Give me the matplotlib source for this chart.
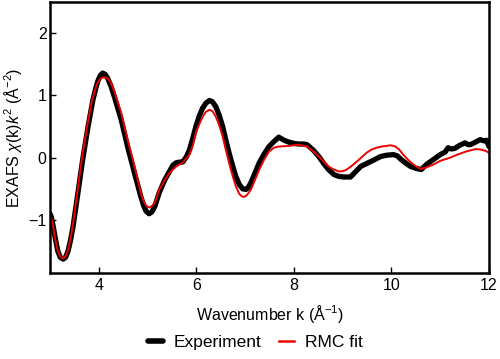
import numpy as np
import matplotlib.pyplot as plt

plt.rcParams['font.family'] = ['Liberation Sans', 'DejaVu Sans']
plt.rcParams['mathtext.fontset'] = 'custom'
plt.rcParams['mathtext.rm'] = 'Liberation Sans'
plt.rcParams['mathtext.it'] = 'Liberation Sans:italic'

# 实验数据 (k, chi*k^2)
k_exp = [3.0, 3.03, 3.07, 3.10, 3.16, 3.21, 3.27, 3.32, 3.37, 3.42, 3.47, 3.57, 3.67, 3.78,
         3.88, 3.94, 3.98, 4.03, 4.08, 4.13, 4.18, 4.25, 4.32, 4.46, 4.59, 4.73, 4.86, 4.92,
         4.97, 5.03, 5.09, 5.15, 5.24, 5.35, 5.45, 5.52, 5.59, 5.66, 5.72, 5.80, 5.86, 5.93,
         5.99, 6.06, 6.13, 6.20, 6.27, 6.33, 6.40, 6.47, 6.54, 6.60, 6.67, 6.74, 6.81, 6.88,
         6.95, 7.02, 7.07, 7.12, 7.20, 7.29, 7.39, 7.49, 7.59, 7.69, 7.80, 7.90, 8.00, 8.10,
         8.20, 8.27, 8.40, 8.51, 8.61, 8.71, 8.82, 8.92, 9.02, 9.16, 9.27, 9.37, 9.50, 9.63,
         9.78, 9.90, 10.04, 10.12, 10.20, 10.30, 10.39, 10.50, 10.61, 10.73, 10.86, 11.00,
         11.10, 11.16, 11.23, 11.30, 11.40, 11.51, 11.57, 11.62, 11.72, 11.82, 11.90, 11.95,
         12.0]
chi_exp = [-0.90, -0.96, -1.12, -1.26, -1.50, -1.60, -1.63, -1.60, -1.50, -1.33, -1.12, -0.58,
           -0.03, 0.50, 0.93, 1.12, 1.23, 1.32, 1.36, 1.34, 1.28, 1.15, 0.98, 0.61, 0.18, -0.24,
           -0.62, -0.77, -0.86, -0.90, -0.87, -0.78, -0.56, -0.36, -0.22, -0.12, -0.08, -0.07,
           -0.07, 0.02, 0.13, 0.32, 0.50, 0.67, 0.80, 0.88, 0.92, 0.90, 0.82, 0.68, 0.50, 0.30,
           0.08, -0.12, -0.30, -0.43, -0.50, -0.51, -0.47, -0.40, -0.25, -0.08, 0.06, 0.18,
           0.26, 0.33, 0.28, 0.25, 0.23, 0.22, 0.22, 0.21, 0.12, 0.02, -0.09, -0.19, -0.27,
           -0.30, -0.31, -0.31, -0.22, -0.14, -0.09, -0.04, 0.02, 0.04, 0.05, 0.03, -0.03,
           -0.09, -0.14, -0.17, -0.19, -0.10, -0.03, 0.05, 0.09, 0.16, 0.14, 0.15, 0.20, 0.24,
           0.21, 0.21, 0.25, 0.29, 0.27, 0.28, 0.18]

# RMC 拟合
k_fit = [3.0, 3.03, 3.07, 3.10, 3.16, 3.21, 3.27, 3.32, 3.37, 3.42, 3.47, 3.56, 3.65, 3.76,
         3.86, 3.96, 4.02, 4.08, 4.15, 4.20, 4.25, 4.32, 4.46, 4.59, 4.73, 4.86, 4.92, 4.98,
         5.04, 5.10, 5.16, 5.24, 5.35, 5.45, 5.59, 5.72, 5.86, 5.93, 5.99, 6.06, 6.13, 6.20,
         6.27, 6.33, 6.40, 6.47, 6.54, 6.60, 6.67, 6.74, 6.81, 6.88, 6.93, 6.98, 7.04, 7.12,
         7.20, 7.29, 7.39, 7.49, 7.59, 7.69, 7.90, 8.10, 8.27, 8.40, 8.51, 8.61, 8.71, 8.82,
         8.92, 8.98, 9.06, 9.12, 9.22, 9.35, 9.49, 9.59, 9.69, 9.80, 9.90, 9.98, 10.08, 10.16,
         10.24, 10.35, 10.45, 10.55, 10.61, 10.70, 10.86, 11.00, 11.20, 11.35, 11.53, 11.73,
         11.84, 11.93, 12.0]
chi_fit = [-0.92, -0.98, -1.14, -1.28, -1.50, -1.59, -1.62, -1.58, -1.48, -1.30, -1.07, -0.56,
           -0.03, 0.50, 0.92, 1.18, 1.26, 1.29, 1.29, 1.26, 1.20, 1.06, 0.72, 0.29, -0.13,
           -0.56, -0.70, -0.78, -0.80, -0.77, -0.70, -0.51, -0.36, -0.24, -0.14, -0.08, 0.05,
           0.20, 0.40, 0.54, 0.66, 0.74, 0.77, 0.75, 0.66, 0.52, 0.34, 0.14, -0.08, -0.28,
           -0.46, -0.58, -0.62, -0.63, -0.60, -0.51, -0.36, -0.19, -0.03, 0.10, 0.16, 0.18,
           0.19, 0.21, 0.18, 0.10, 0.02, -0.06, -0.14, -0.19, -0.22, -0.22, -0.20, -0.17,
           -0.11, -0.02, 0.08, 0.13, 0.16, 0.18, 0.19, 0.20, 0.18, 0.13, 0.05, -0.04, -0.11,
           -0.16, -0.18, -0.16, -0.11, -0.05, 0.00, 0.05, 0.10, 0.14, 0.13, 0.11, 0.08]

fig = plt.figure(figsize=(5.0, 3.59), dpi=100)
ax = fig.add_axes([0.1, 0.24, 0.878, 0.754])

ax.plot(k_exp, chi_exp, color='black', lw=3.8, solid_capstyle='round',
        solid_joinstyle='round', label='Experiment')
ax.plot(k_fit, chi_fit, color='#ee0000', lw=1.4, solid_joinstyle='round', label='RMC fit')

ax.set_xlim(3, 12)
ax.set_ylim(-1.85, 2.5)
ax.set_xticks([4, 6, 8, 10, 12])
ax.set_yticks([-1, 0, 1, 2])
ax.tick_params(direction='in', length=4, width=1, labelsize=11.5, pad=3.6)
ax.tick_params(axis='y', pad=2.5)
for s in ax.spines.values():
    s.set_linewidth(1.8)

ax.set_xlabel('Wavenumber k (Å$^{-1}$)', fontsize=11.5, labelpad=7)
ax.set_ylabel(r'EXAFS $\chi$(k)$k^2$ (Å$^{-2}$)', fontsize=11.5, labelpad=3)

leg = fig.legend(loc='center', bbox_to_anchor=(0.51, 0.045), ncol=2, frameon=False,
                 fontsize=12.5, handlelength=0.9, columnspacing=1.0, handletextpad=0.6)
leg.get_lines()[0].set_linewidth(4)
leg.get_lines()[1].set_linewidth(1.8)

fig.savefig('out.png', dpi=100)
